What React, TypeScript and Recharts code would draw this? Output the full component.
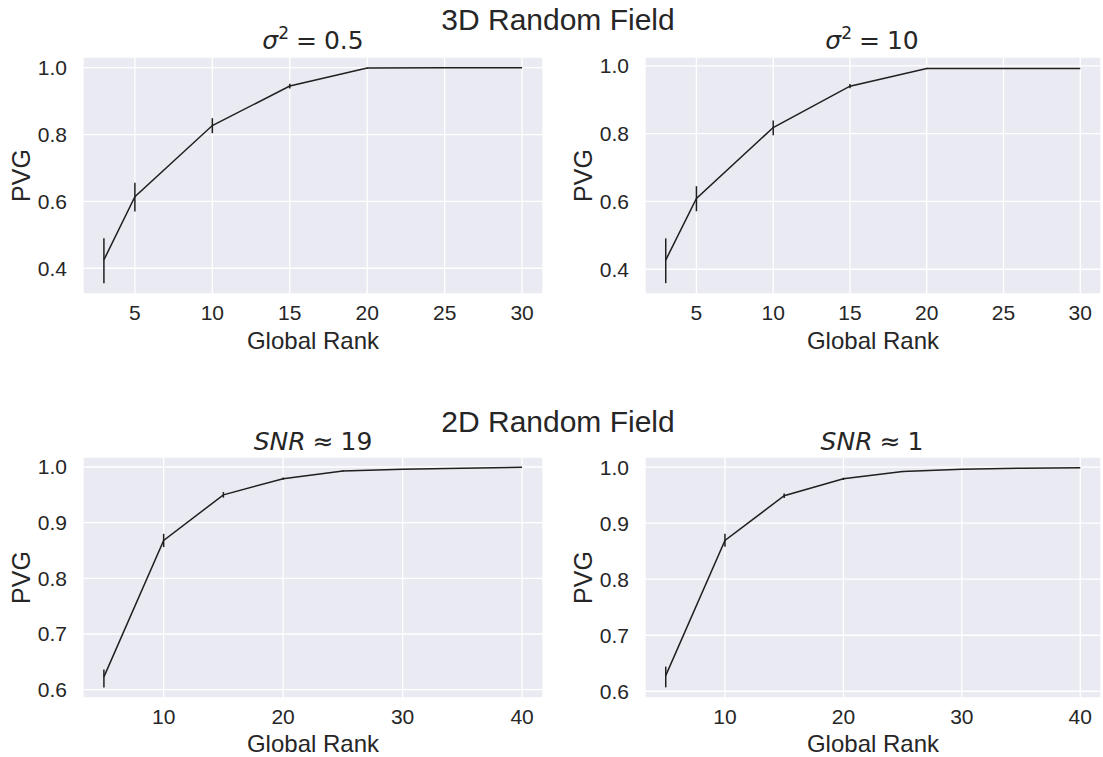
import React from 'react';
import {
  LineChart,
  Line,
  XAxis,
  YAxis,
  CartesianGrid,
  ErrorBar,
  Label,
} from 'recharts';

// 3D random field, global ranks
const rank3d = [3, 5, 10, 15, 20, 25, 30];
const pvgVar05 = [0.425, 0.614, 0.827, 0.945, 0.999, 1.0, 1.0];
const errVar05Low = [0.07, 0.044, 0.023, 0.007, 0.002, 0, 0];
const errVar05High = [0.065, 0.042, 0.022, 0.007, 0.001, 0, 0];
const pvgVar10 = [0.427, 0.609, 0.818, 0.94, 0.992, 0.992, 0.992];
const errVar10Low = [0.068, 0.038, 0.023, 0.006, 0.002, 0, 0];
const errVar10High = [0.064, 0.036, 0.021, 0.006, 0.002, 0, 0];

// 2D random field, global ranks
const rank2d = [5, 10, 15, 20, 25, 30, 35, 40];
const pvgSnr19 = [0.623, 0.868, 0.95, 0.979, 0.993, 0.996, 0.998, 0.9995];
const errSnr19Low = [0.019, 0.012, 0.005, 0.002, 0.001, 0, 0, 0];
const errSnr19High = [0.013, 0.012, 0.005, 0.002, 0.001, 0, 0, 0];
const pvgSnr1 = [0.628, 0.869, 0.949, 0.979, 0.992, 0.996, 0.998, 0.999];
const errSnr1Low = [0.021, 0.011, 0.004, 0.002, 0.001, 0, 0, 0];
const errSnr1High = [0.016, 0.012, 0.004, 0.002, 0.001, 0, 0, 0];

const ticks3dX = [5, 10, 15, 20, 25, 30];
const ticks3dY = [0.4, 0.6, 0.8, 1.0];
const ticks2dX = [10, 20, 30, 40];
const ticks2dY = [0.6, 0.7, 0.8, 0.9, 1.0];

const buildRows = (xs: number[], ys: number[], lo: number[], hi: number[]) =>
  xs.map((x, i) => ({ rank: x, pvg: ys[i], err: [lo[i], hi[i]] }));

const FONT = '"Liberation Sans", Arial, sans-serif';
const MATH_FONT = '"DejaVu Sans", sans-serif';
const TEXT = '#262626';
const INK = '#1f1f1f';

interface PanelProps {
  left: number;
  top: number;
  width: number;
  height: number;
  plotLeft: number;
  plotRight: number;
  plotTop: number;
  plotBottom: number;
  labelBaseline: number;
  ylabelX: number;
  data: { rank: number; pvg: number; err: number[] }[];
  xDomain: [number, number];
  yDomain: [number, number];
  xTicks: number[];
  yTicks: number[];
}

const Panel = (p: PanelProps) => {
  const xAxisHeight = p.top + p.height - p.plotBottom;
  return (
    <div style={{ position: 'absolute', left: p.left, top: p.top }}>
      <LineChart
        width={p.width}
        height={p.height}
        data={p.data}
        margin={{
          top: p.plotTop - p.top,
          right: p.left + p.width - p.plotRight,
          left: 0,
          bottom: 0,
        }}
      >
        <CartesianGrid stroke="#ffffff" strokeWidth={1.3} fill="#EAEAF2" fillOpacity={1} />
        <XAxis
          dataKey="rank"
          type="number"
          domain={p.xDomain}
          ticks={p.xTicks}
          allowDataOverflow
          height={xAxisHeight}
          axisLine={false}
          tickLine={false}
          tickMargin={5}
          tick={{ fontSize: 21, fill: TEXT, fontFamily: FONT }}
        >
          <Label
            value="Global Rank"
            position="insideBottom"
            offset={p.top + p.height - p.labelBaseline}
            style={{ fontSize: 24, fill: TEXT, fontFamily: FONT }}
          />
        </XAxis>
        <YAxis
          type="number"
          domain={p.yDomain}
          ticks={p.yTicks}
          allowDataOverflow
          width={p.plotLeft - p.left}
          axisLine={false}
          tickLine={false}
          tickMargin={10}
          tickFormatter={(v: number) => v.toFixed(1)}
          tick={{ fontSize: 21, fill: TEXT, fontFamily: FONT }}
        >
          <Label
            value="PVG"
            angle={-90}
            position="insideLeft"
            offset={p.ylabelX - p.left}
            textAnchor="middle"
            style={{ fontSize: 25, fill: TEXT, fontFamily: FONT }}
          />
        </YAxis>
        <Line
          dataKey="pvg"
          type="linear"
          stroke={INK}
          strokeWidth={1.5}
          dot={false}
          isAnimationActive={false}
        >
          <ErrorBar dataKey="err" width={0} stroke={INK} strokeWidth={1.5} direction="y" />
        </Line>
      </LineChart>
    </div>
  );
};

const MathTitle = ({ x, y, sym, sup, rel, val }: { x: number; y: number; sym: string; sup?: string; rel: string; val: string }) => (
  <text x={x} y={y} textAnchor="middle" fontFamily={MATH_FONT} fontSize={25} fill={TEXT}>
    <tspan fontStyle="italic">{sym}</tspan>
    {sup ? (
      <tspan dy={-10} fontSize={17}>
        {sup}
      </tspan>
    ) : null}
    <tspan dy={sup ? 10 : 0} dx={7}>
      {rel}
    </tspan>
    <tspan dx={7}>{val}</tspan>
  </text>
);

export default function App() {
  const leftCol = { left: 0, width: 560, plotLeft: 83, plotRight: 543, ylabelX: 21 };
  const rightCol = { left: 560, width: 543, plotLeft: 645, plotRight: 1101, ylabelX: 583 };
  const topRow = { top: 0, height: 375, plotTop: 57, plotBottom: 294, labelBaseline: 349 };
  const bottomRow = { top: 390, height: 367, plotTop: 457, plotBottom: 698, labelBaseline: 752 };

  return (
    <div
      style={{
        position: 'absolute',
        left: 0,
        top: 0,
        width: 1103,
        height: 757,
        background: '#ffffff',
        overflow: 'hidden',
      }}
    >
      <Panel
        {...leftCol}
        {...topRow}
        data={buildRows(rank3d, pvgVar05, errVar05Low, errVar05High)}
        xDomain={[1.65, 31.35]}
        yDomain={[0.323, 1.032]}
        xTicks={ticks3dX}
        yTicks={ticks3dY}
      />
      <Panel
        {...rightCol}
        {...topRow}
        data={buildRows(rank3d, pvgVar10, errVar10Low, errVar10High)}
        xDomain={[1.65, 31.35]}
        yDomain={[0.327, 1.026]}
        xTicks={ticks3dX}
        yTicks={ticks3dY}
      />
      <Panel
        {...leftCol}
        {...bottomRow}
        data={buildRows(rank2d, pvgSnr19, errSnr19Low, errSnr19High)}
        xDomain={[3.25, 41.75]}
        yDomain={[0.585, 1.018]}
        xTicks={ticks2dX}
        yTicks={ticks2dY}
      />
      <Panel
        {...rightCol}
        {...bottomRow}
        data={buildRows(rank2d, pvgSnr1, errSnr1Low, errSnr1High)}
        xDomain={[3.25, 41.75]}
        yDomain={[0.588, 1.018]}
        xTicks={ticks2dX}
        yTicks={ticks2dY}
      />
      <svg
        width={1103}
        height={757}
        style={{ position: 'absolute', left: 0, top: 0, pointerEvents: 'none' }}
      >
        <text x={558} y={30} textAnchor="middle" fontFamily={FONT} fontSize={30} fill={TEXT}>
          3D Random Field
        </text>
        <text x={558} y={432} textAnchor="middle" fontFamily={FONT} fontSize={30} fill={TEXT}>
          2D Random Field
        </text>
        <MathTitle x={313} y={49} sym="σ" sup="2" rel="=" val="0.5" />
        <MathTitle x={872} y={49} sym="σ" sup="2" rel="=" val="10" />
        <MathTitle x={313} y={450} sym="SNR" rel="≈" val="19" />
        <MathTitle x={872} y={450} sym="SNR" rel="≈" val="1" />
      </svg>
    </div>
  );
}
